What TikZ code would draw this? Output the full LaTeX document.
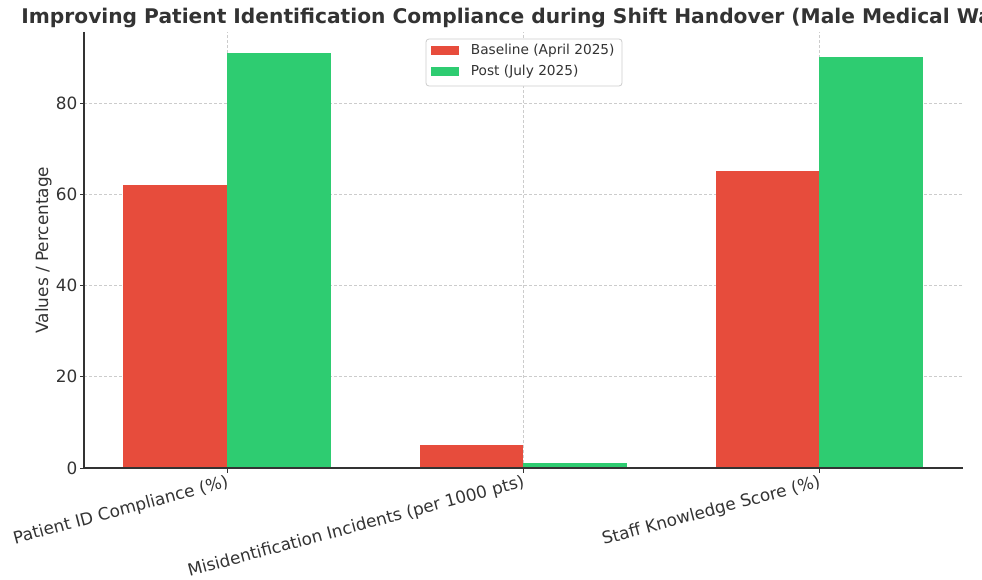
\documentclass[tikz,border=0pt]{standalone}
\usepackage{fontspec}
\setmainfont{DejaVu Sans}
\usetikzlibrary{positioning}
\definecolor{base}{HTML}{E74C3C}
\definecolor{post}{HTML}{2ECC71}
\definecolor{ink}{HTML}{333333}
\definecolor{gridgray}{HTML}{CCCCCC}
\tikzset{
  gridline/.style={gridgray, dash pattern=on 3pt off 2pt, line width=0.7pt},
  ticklabel/.style={text=ink, inner sep=0pt, font=\fontsize{16.9}{19}\selectfont},
  legendtext/.style={text=ink, inner sep=0pt, font=\fontsize{13.7}{16}\selectfont},
  patch/.style={minimum width=28pt, minimum height=9.5pt, inner sep=0pt}
}

\begin{document}
\begin{tikzpicture}[x=1pt,y=-1pt]
\useasboundingbox (0,0) rectangle (982,579);
\clip (0,0) rectangle (982,579);

\node[anchor=base, text=ink, font=\bfseries\fontsize{20.2}{24}\selectfont] (title) at (523.5,23)
  {Improving Patient Identification Compliance during Shift Handover (Male Medical Ward)};

% data part: x in px, y in values
\begin{scope}[shift={(0,468)}, x=1pt, y=4.5625pt]
\foreach \v in {20,40,60,80}
  \draw[gridline] (84,\v) -- (963,\v);
\foreach \c in {227,523,819}
  \draw[gridline] (\c,0) -- (\c,95.6);

\fill[base] (123,0) rectangle (227,62);
\fill[post] (227,0) rectangle (331,91);
\fill[base] (420,0) rectangle (523,5);
\fill[post] (523,0) rectangle (627,1);
\fill[base] (716,0) rectangle (819,65);
\fill[post] (819,0) rectangle (923,90);

\draw[ink, line width=1.4pt] (84,95.6) -- (84,0) -- (963,0);

\foreach \v in {0,20,40,60,80} {
  \draw[ink, line width=1pt] (84,\v) -- (79.5,\v);
  \node[ticklabel, anchor=east] (y\v) at (77.5,\v) {\v};
}
\foreach \c in {227,523,819}
  \draw[ink, line width=1pt] (\c,0) -- (\c,-1.05);
\end{scope}

\node[ticklabel, rotate=15, anchor=north east] (c1) at (226,474) {Patient ID Compliance (\%)};
\node[ticklabel, rotate=15, anchor=north east] (c2) at (522,474) {Misidentification Incidents (per 1000 pts)};
\node[ticklabel, rotate=15, anchor=north east] (c3) at (818,474) {Staff Knowledge Score (\%)};

\node[ticklabel, rotate=90] (ylab) at (43.5,250) {Values / Percentage};

% legend
\draw[gridgray, line width=0.8pt, rounded corners=3pt, fill=white] (426,39) rectangle (622,86);
\node[patch, fill=base] (bp) at (445,50.5) {};
\node[patch, fill=post] (pp) at (445,71.5) {};
\node[legendtext, right=11.5pt of bp] (bl) {Baseline (April 2025)};
\node[legendtext, right=11.5pt of pp] (pl) {Post (July 2025)};

\end{tikzpicture}
\end{document}
